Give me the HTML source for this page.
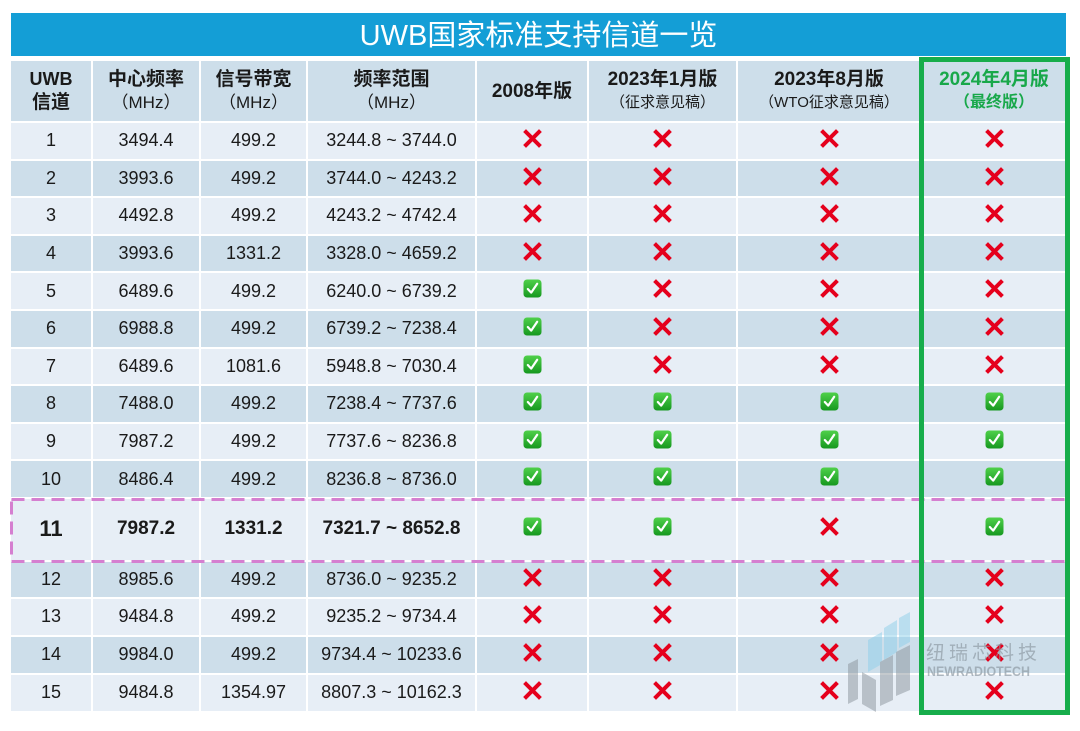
<!DOCTYPE html>
<html><head><meta charset="utf-8">
<style>
html,body{margin:0;padding:0;background:#fff;}
body{width:1080px;height:731px;position:relative;overflow:hidden;font-family:"Liberation Sans","Noto Sans CJK SC",sans-serif;color:#1a1a1a;}
.title{position:absolute;left:11px;top:13px;width:1055px;height:43px;background:#149ed6;color:#fff;font-size:29px;line-height:46px;text-align:center;font-family:"Liberation Sans","Noto Sans CJK SC",sans-serif;}
table{position:absolute;left:9px;top:59px;border-collapse:separate;border-spacing:2px;table-layout:fixed;}
td{padding:0;text-align:center;vertical-align:middle;font-size:18px;white-space:nowrap;}
tr.h td{background:#cddeea;height:60px;line-height:23px;font-weight:bold;font-size:19px;}
tr.h td span{display:block;}
tr.h td .s{font-weight:normal;font-size:17px;}
tr.h td .s2{font-weight:normal;font-size:15px;}
tr.l td{background:#e7eef6;}
tr.d td{background:#cddeea;}
tr.r td{height:35.6px;}
tr.b td{font-weight:bold;font-size:19px;height:61px;}
svg.i{width:19px;height:19px;display:inline-block;vertical-align:middle;position:relative;top:-3px;}
.g{color:#18a84a;}
</style></head><body>
<svg width="0" height="0" style="position:absolute">
<defs>
<g id="x"><path d="M3 3 L16 16 M16 3 L3 16" stroke="#e5001c" stroke-width="4" stroke-linecap="square"/></g>
<linearGradient id="gg" x1="0" y1="0" x2="0" y2="1"><stop offset="0" stop-color="#4fd04a"/><stop offset="1" stop-color="#16981f"/></linearGradient>
<g id="c"><rect x="0.5" y="0.5" width="18" height="18" rx="3.5" fill="url(#gg)"/><path d="M4.8 10 L8.2 13.6 L14.2 4.8" stroke="#fff" stroke-width="2.2" fill="none" stroke-linecap="round" stroke-linejoin="round"/></g>
</defs></svg>

<div class="title">UWB国家标准支持信道一览</div>

<table>
<colgroup><col style="width:80px"><col style="width:106px"><col style="width:105px"><col style="width:167px"><col style="width:110px"><col style="width:147px"><col style="width:182px"><col style="width:144px"></colgroup>
<tr class="h">
<td><span style="font-size:18px">UWB</span><span>信道</span></td>
<td><span>中心频率</span><span class="s">（MHz）</span></td>
<td><span>信号带宽</span><span class="s">（MHz）</span></td>
<td><span>频率范围</span><span class="s">（MHz）</span></td>
<td><span>2008年版</span></td>
<td><span>2023年1月版</span><span class="s2">（征求意见稿）</span></td>
<td><span>2023年8月版</span><span class="s2">（WTO征求意见稿）</span></td>
<td class="g"><span>2024年4月版</span><span style="font-size:16px">（最终版）</span></td>
</tr>
<tr class="r l"><td>1</td><td>3494.4</td><td>499.2</td><td>3244.8 ~ 3744.0</td><td><svg class="i"><use href="#x"/></svg></td><td><svg class="i"><use href="#x"/></svg></td><td><svg class="i"><use href="#x"/></svg></td><td><svg class="i"><use href="#x"/></svg></td></tr>
<tr class="r d"><td>2</td><td>3993.6</td><td>499.2</td><td>3744.0 ~ 4243.2</td><td><svg class="i"><use href="#x"/></svg></td><td><svg class="i"><use href="#x"/></svg></td><td><svg class="i"><use href="#x"/></svg></td><td><svg class="i"><use href="#x"/></svg></td></tr>
<tr class="r l"><td>3</td><td>4492.8</td><td>499.2</td><td>4243.2 ~ 4742.4</td><td><svg class="i"><use href="#x"/></svg></td><td><svg class="i"><use href="#x"/></svg></td><td><svg class="i"><use href="#x"/></svg></td><td><svg class="i"><use href="#x"/></svg></td></tr>
<tr class="r d"><td>4</td><td>3993.6</td><td>1331.2</td><td>3328.0 ~ 4659.2</td><td><svg class="i"><use href="#x"/></svg></td><td><svg class="i"><use href="#x"/></svg></td><td><svg class="i"><use href="#x"/></svg></td><td><svg class="i"><use href="#x"/></svg></td></tr>
<tr class="r l"><td>5</td><td>6489.6</td><td>499.2</td><td>6240.0 ~ 6739.2</td><td><svg class="i"><use href="#c"/></svg></td><td><svg class="i"><use href="#x"/></svg></td><td><svg class="i"><use href="#x"/></svg></td><td><svg class="i"><use href="#x"/></svg></td></tr>
<tr class="r d"><td>6</td><td>6988.8</td><td>499.2</td><td>6739.2 ~ 7238.4</td><td><svg class="i"><use href="#c"/></svg></td><td><svg class="i"><use href="#x"/></svg></td><td><svg class="i"><use href="#x"/></svg></td><td><svg class="i"><use href="#x"/></svg></td></tr>
<tr class="r l"><td>7</td><td>6489.6</td><td>1081.6</td><td>5948.8 ~ 7030.4</td><td><svg class="i"><use href="#c"/></svg></td><td><svg class="i"><use href="#x"/></svg></td><td><svg class="i"><use href="#x"/></svg></td><td><svg class="i"><use href="#x"/></svg></td></tr>
<tr class="r d"><td>8</td><td>7488.0</td><td>499.2</td><td>7238.4 ~ 7737.6</td><td><svg class="i"><use href="#c"/></svg></td><td><svg class="i"><use href="#c"/></svg></td><td><svg class="i"><use href="#c"/></svg></td><td><svg class="i"><use href="#c"/></svg></td></tr>
<tr class="r l"><td>9</td><td>7987.2</td><td>499.2</td><td>7737.6 ~ 8236.8</td><td><svg class="i"><use href="#c"/></svg></td><td><svg class="i"><use href="#c"/></svg></td><td><svg class="i"><use href="#c"/></svg></td><td><svg class="i"><use href="#c"/></svg></td></tr>
<tr class="r d"><td>10</td><td>8486.4</td><td>499.2</td><td>8236.8 ~ 8736.0</td><td><svg class="i"><use href="#c"/></svg></td><td><svg class="i"><use href="#c"/></svg></td><td><svg class="i"><use href="#c"/></svg></td><td><svg class="i"><use href="#c"/></svg></td></tr>
<tr class="b l"><td style="font-size:22px">11</td><td>7987.2</td><td>1331.2</td><td>7321.7 ~ 8652.8</td><td><svg class="i"><use href="#c"/></svg></td><td><svg class="i"><use href="#c"/></svg></td><td><svg class="i"><use href="#x"/></svg></td><td><svg class="i"><use href="#c"/></svg></td></tr>
<tr class="d" style="height:35px"><td style="height:35px">12</td><td>8985.6</td><td>499.2</td><td>8736.0 ~ 9235.2</td><td><svg class="i"><use href="#x"/></svg></td><td><svg class="i"><use href="#x"/></svg></td><td><svg class="i"><use href="#x"/></svg></td><td><svg class="i"><use href="#x"/></svg></td></tr>
<tr class="l"><td style="height:36px">13</td><td>9484.8</td><td>499.2</td><td>9235.2 ~ 9734.4</td><td><svg class="i"><use href="#x"/></svg></td><td><svg class="i"><use href="#x"/></svg></td><td><svg class="i"><use href="#x"/></svg></td><td><svg class="i"><use href="#x"/></svg></td></tr>
<tr class="d"><td style="height:36px">14</td><td>9984.0</td><td>499.2</td><td>9734.4 ~ 10233.6</td><td><svg class="i"><use href="#x"/></svg></td><td><svg class="i"><use href="#x"/></svg></td><td><svg class="i"><use href="#x"/></svg></td><td><svg class="i"><use href="#x"/></svg></td></tr>
<tr class="l"><td style="height:36px">15</td><td>9484.8</td><td>1354.97</td><td>8807.3 ~ 10162.3</td><td><svg class="i"><use href="#x"/></svg></td><td><svg class="i"><use href="#x"/></svg></td><td><svg class="i"><use href="#x"/></svg></td><td><svg class="i"><use href="#x"/></svg></td></tr>
</table>

<!-- dashed highlight -->
<svg style="position:absolute;left:0;top:0" width="1080" height="731">
<rect x="11.5" y="499.5" width="1055.5" height="62" fill="none" stroke="#d57fd0" stroke-width="3" stroke-dasharray="13 7"/>
</svg>

<!-- green box -->
<div style="position:absolute;left:919px;top:57px;width:141px;height:648px;border:5px solid #17ad4b;"></div>

<!-- watermark -->
<svg style="position:absolute;left:0;top:0" width="1080" height="731">
<g opacity="0.5">
<polygon points="868,640 882,632 882,664 868,672" fill="#8fd0ea"/>
<polygon points="884,628 897,620 897,652 884,660" fill="#8fd0ea"/>
<polygon points="899,618 910,612 910,642 899,648" fill="#8fd0ea"/>
<polygon points="848,664 858,659 858,699 848,704" fill="#8a949c"/>
<polygon points="862,672 876,680 876,712 862,704" fill="#8a949c"/>
<polygon points="880,662 893,655 893,700 880,706" fill="#8a949c"/>
<polygon points="896,652 910,645 910,690 896,696" fill="#8a949c"/>
</g>
<g fill="#8a96a0" opacity="0.65">
<text x="926" y="659" font-size="19" letter-spacing="4" font-family="'Liberation Sans','Noto Sans CJK SC',sans-serif">纽瑞芯科技</text>
<text x="927" y="676" font-size="14" font-weight="bold" textLength="103" lengthAdjust="spacingAndGlyphs" font-family="'Liberation Sans',sans-serif">NEWRADIOTECH</text>
</g>
</svg>
</body></html>
